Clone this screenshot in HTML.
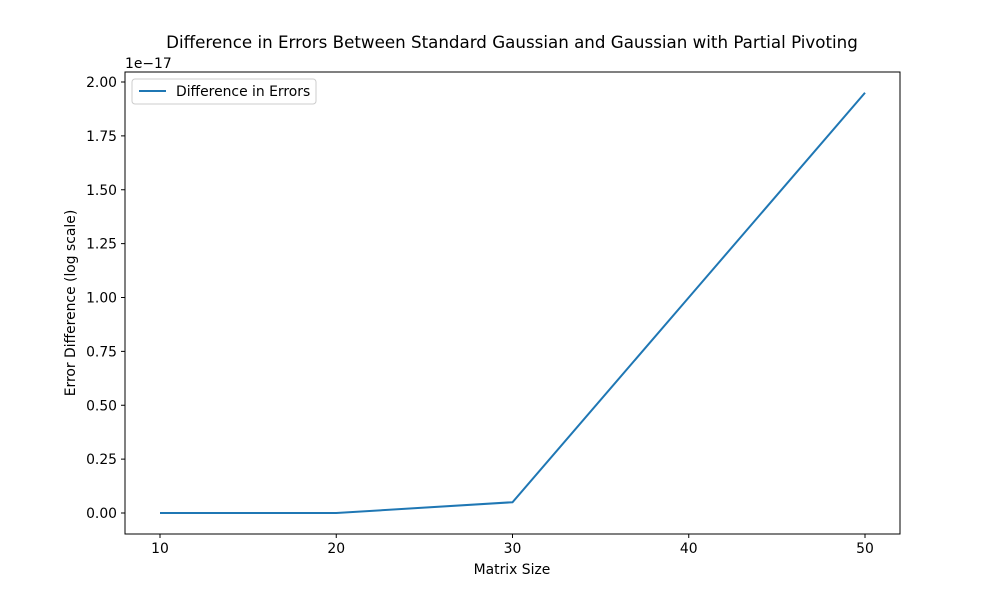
<!DOCTYPE html>
<html><head><meta charset="utf-8"><style>
body{margin:0;background:#fff}
svg text{font-family:"DejaVu Sans","Liberation Sans",sans-serif;fill:#000}
</style></head><body>
<svg id="chart" width="1000" height="600" viewBox="0 0 1000 600">
<rect width="1000" height="600" fill="#fff"/>
<text x="512" y="48" font-size="16.7" text-anchor="middle">Difference in Errors Between Standard Gaussian and Gaussian with Partial Pivoting</text>
<g id="ticks"></g>
<path id="line" fill="none" stroke="#1f77b4" stroke-width="2"/>
<rect x="125" y="72" width="775" height="462" fill="none" stroke="#000" stroke-width="1"/>
<text x="125" y="68" font-size="13.9">1e−17</text>
<text x="512" y="574" font-size="13.9" text-anchor="middle">Matrix Size</text>
<text transform="translate(75,303) rotate(-90)" font-size="13.9" text-anchor="middle">Error Difference (log scale)</text>
<g>
<rect x="132" y="79" width="184" height="25" rx="3" fill="#fff" stroke="#ccc"/>
<line x1="139" y1="91" x2="166" y2="91" stroke="#1f77b4" stroke-width="2"/>
<text x="176" y="96" font-size="13.9">Difference in Errors</text>
</g>
</svg>
<script>
const categories=[10,20,30,40,50];
const values=[0,0,0.05,1.0,1.95];
const xTicks=[10,20,30,40,50];
const yTicks=[0,0.25,0.5,0.75,1.0,1.25,1.5,1.75,2.0];
const sx=v=>160+(v-10)*(865-160)/40;
const sy=v=>513-v*(513-82)/2;
const ns="http://www.w3.org/2000/svg";
const g=document.getElementById('ticks');
xTicks.forEach(t=>{
 const l=document.createElementNS(ns,'line');
 l.setAttribute('x1',sx(t));l.setAttribute('x2',sx(t));l.setAttribute('y1',534);l.setAttribute('y2',538);l.setAttribute('stroke','#000');
 
 
 g.appendChild(l);
 const tx=document.createElementNS(ns,'text');
 tx.setAttribute('x',sx(t));tx.setAttribute('y',553);tx.setAttribute('font-size','13.9');tx.setAttribute('text-anchor','middle');tx.textContent=t;
 
 
 g.appendChild(tx);
});
yTicks.forEach(t=>{
 const l=document.createElementNS(ns,'line');
 l.setAttribute('x1',121);l.setAttribute('x2',125);l.setAttribute('y1',sy(t));l.setAttribute('y2',sy(t));l.setAttribute('stroke','#000');
 
 
 g.appendChild(l);
 const tx=document.createElementNS(ns,'text');
 tx.setAttribute('x',117);tx.setAttribute('y',sy(t)+5);tx.setAttribute('font-size','13.9');tx.setAttribute('text-anchor','end');tx.textContent=t.toFixed(2);
 
 
 g.appendChild(tx);
});
document.getElementById('line').setAttribute('d',categories.map((c,i)=>(i?'L':'M')+sx(c)+','+sy(values[i])).join(' '));
</script>
</body></html>
